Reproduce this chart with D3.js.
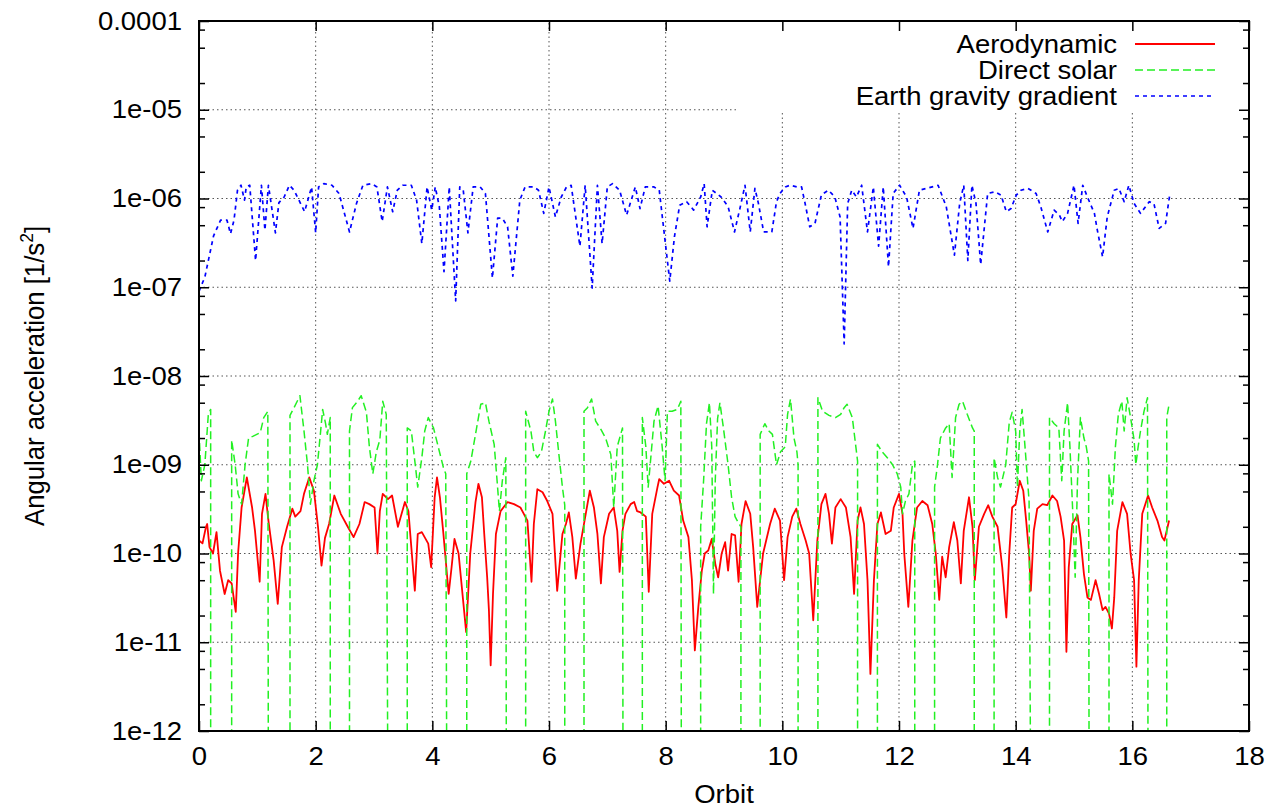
<html>
  <head>
    <style>
      body { margin: 0; background: #fff; }
      svg text { font-family: "Liberation Sans", Arial, sans-serif; fill: #000; }
    </style>
  </head>
  <body>
    <div id="chart"></div>
    <script src="https://d3js.org/d3.v7.min.js"></script>
    <script>
      // series names, in plotting order
      const seriesNames = ["Aerodynamic", "Direct solar", "Earth gravity gradient"];

      // axis ticks
      const xTicks = [0, 2, 4, 6, 8, 10, 12, 14, 16, 18];
      const yTicks = [1e-12, 1e-11, 1e-10, 1e-9, 1e-8, 1e-7, 1e-6, 1e-5, 1e-4];
      const yTickLabels = ["1e-12", "1e-11", "1e-10", "1e-09", "1e-08", "1e-07", "1e-06", "1e-05", "0.0001"];
      const yMinorMantissas = [2, 5, 8];

      // [orbit, angular acceleration 1/s^2]
      const aerodynamic = [
        [0.00,1.4e-10],[0.06,1.3e-10],[0.12,2.0e-10],[0.14,2.15e-10],[0.18,1.18e-10],[0.24,1.0e-10],[0.30,1.74e-10],
        [0.36,6.4e-11],[0.44,3.5e-11],[0.50,5.0e-11],[0.56,4.6e-11],[0.60,3.0e-11],[0.63,2.2e-11],[0.67,1.0e-10],
        [0.73,3.3e-10],[0.82,7.2e-10],[0.91,3.3e-10],[0.96,1.8e-10],[1.04,4.8e-11],[1.08,2.8e-10],[1.14,4.7e-10],
        [1.19,2.35e-10],[1.28,8.3e-11],[1.35,2.7e-11],[1.42,1.18e-10],[1.51,2.0e-10],[1.60,3.2e-10],[1.65,2.6e-10],
        [1.74,3.0e-10],[1.80,4.7e-10],[1.89,7.2e-10],[1.97,5.1e-10],[2.04,2.0e-10],[2.10,7.3e-11],[2.16,1.5e-10],
        [2.23,2.15e-10],[2.32,4.5e-10],[2.43,2.8e-10],[2.55,2.0e-10],[2.65,1.53e-10],[2.75,2.15e-10],[2.84,3.8e-10],
        [2.92,3.6e-10],[3.01,3.3e-10],[3.06,1.0e-10],[3.10,3.0e-10],[3.15,4.7e-10],[3.24,4.1e-10],[3.31,4.5e-10],
        [3.41,2.0e-10],[3.53,3.8e-10],[3.59,3.0e-10],[3.70,3.8e-11],[3.75,1.66e-10],[3.82,1.74e-10],[3.93,1.29e-10],
        [3.98,7.0e-11],[4.04,4.3e-10],[4.08,7.2e-10],[4.13,4.3e-10],[4.19,1.66e-10],[4.28,3.5e-11],[4.33,7.0e-11],
        [4.38,1.46e-10],[4.45,1.0e-10],[4.58,1.3e-11],[4.65,1.0e-10],[4.74,3.8e-10],[4.79,6.1e-10],[4.85,4.3e-10],
        [4.89,1.66e-10],[4.94,5.4e-11],[4.97,2.3e-11],[5.00,5.5e-12],[5.04,3.5e-11],[5.09,1.66e-10],[5.17,3.0e-10],
        [5.29,3.8e-10],[5.40,3.6e-10],[5.51,3.3e-10],[5.63,2.35e-10],[5.70,4.8e-11],[5.74,2.15e-10],[5.80,5.3e-10],
        [5.89,4.9e-10],[5.97,3.9e-10],[6.06,2.8e-10],[6.14,3.8e-11],[6.23,1.66e-10],[6.29,2.15e-10],[6.34,2.9e-10],
        [6.40,1.53e-10],[6.46,5.2e-11],[6.54,1.29e-10],[6.63,2.8e-10],[6.70,5.1e-10],[6.77,3.3e-10],[6.83,1.66e-10],
        [6.89,4.6e-11],[6.94,1.53e-10],[7.03,2.8e-10],[7.11,3.3e-10],[7.17,1.8e-10],[7.21,6.2e-11],[7.26,1.8e-10],
        [7.31,2.8e-10],[7.40,3.6e-10],[7.46,3.8e-10],[7.51,3.0e-10],[7.57,2.9e-10],[7.66,2.6e-10],[7.71,3.7e-11],
        [7.77,2.8e-10],[7.86,5.6e-10],[7.89,6.9e-10],[7.97,6.1e-10],[8.06,6.6e-10],[8.14,5.1e-10],[8.23,4.5e-10],
        [8.30,2.35e-10],[8.39,1.53e-10],[8.45,5.0e-11],[8.50,8.1e-12],[8.56,2.5e-11],[8.62,6.4e-11],[8.67,1.0e-10],
        [8.73,1.08e-10],[8.79,1.46e-10],[8.85,7.7e-11],[8.90,5.4e-11],[8.96,1.0e-10],[9.02,1.34e-10],[9.07,6.4e-11],
        [9.13,1.66e-10],[9.19,1.6e-10],[9.25,4.8e-11],[9.30,2.15e-10],[9.37,3.9e-10],[9.45,2.8e-10],[9.50,1.18e-10],
        [9.57,2.5e-11],[9.67,1.0e-10],[9.79,2.15e-10],[9.87,3.2e-10],[9.96,2.35e-10],[10.03,5.0e-11],[10.09,1.53e-10],
        [10.17,2.6e-10],[10.24,3.2e-10],[10.31,2.15e-10],[10.40,1.4e-10],[10.46,1.0e-10],[10.53,1.77e-11],[10.60,1.4e-10],
        [10.67,3.6e-10],[10.74,4.7e-10],[10.80,2.8e-10],[10.85,1.29e-10],[10.91,3.3e-10],[11.00,4.1e-10],[11.09,3.3e-10],
        [11.17,1.53e-10],[11.23,3.5e-11],[11.29,2.35e-10],[11.34,3.3e-10],[11.40,2.15e-10],[11.46,5.0e-11],[11.51,4.4e-12],
        [11.57,5.0e-11],[11.63,2.15e-10],[11.69,2.9e-10],[11.77,1.66e-10],[11.86,1.8e-10],[11.91,3.3e-10],[12.00,4.7e-10],
        [12.06,2.8e-10],[12.09,1.0e-10],[12.16,2.5e-11],[12.23,1.4e-10],[12.31,3.3e-10],[12.40,3.9e-10],[12.49,3.5e-10],
        [12.57,2.15e-10],[12.63,1.0e-10],[12.69,3.0e-11],[12.74,9.2e-11],[12.80,5.4e-11],[12.86,1.18e-10],[12.94,2.25e-10],
        [13.00,1.4e-10],[13.06,4.6e-11],[13.11,1.8e-10],[13.20,4.3e-10],[13.26,2.0e-10],[13.30,5.0e-11],[13.37,2.0e-10],
        [13.46,2.8e-10],[13.53,3.5e-10],[13.60,2.6e-10],[13.69,2.0e-10],[13.77,7.0e-11],[13.84,1.9e-11],[13.89,1.0e-10],
        [13.94,3.3e-10],[14.00,3.6e-10],[14.07,6.6e-10],[14.13,5.1e-10],[14.18,2.35e-10],[14.23,1.0e-10],[14.26,3.8e-11],
        [14.31,1.8e-10],[14.37,3.2e-10],[14.46,3.6e-10],[14.54,3.5e-10],[14.63,4.5e-10],[14.71,3.9e-10],[14.77,2.6e-10],
        [14.83,1.4e-10],[14.87,7.8e-12],[14.91,7.0e-11],[14.97,2.15e-10],[15.06,2.7e-10],[15.11,1.53e-10],[15.17,5.9e-11],
        [15.23,3.2e-11],[15.29,3.0e-11],[15.37,5.0e-11],[15.43,3.5e-11],[15.49,2.3e-11],[15.54,2.5e-11],[15.60,2.1e-11],
        [15.65,1.43e-11],[15.69,3.2e-11],[15.74,1.8e-10],[15.83,3.8e-10],[15.91,2.8e-10],[15.97,1.0e-10],[16.03,5.0e-11],
        [16.07,5.3e-12],[16.11,5.0e-11],[16.17,2.8e-10],[16.27,4.5e-10],[16.34,3.3e-10],[16.43,2.35e-10],[16.51,1.53e-10],
        [16.55,1.4e-10],[16.63,2.35e-10]
      ];

      // 0 = in eclipse, no solar torque
      const directSolar = [
        [0.00,2.4e-9],[0.04,6.6e-10],[0.10,1.0e-9],[0.16,3.7e-9],[0.20,4.2e-9],[0.20,0],[0.56,0],
        [0.56,1.9e-9],[0.62,1.0e-9],[0.67,4.7e-10],[0.73,3.6e-10],[0.79,1.0e-9],[0.85,2.0e-9],[0.93,2.1e-9],
        [1.05,2.3e-9],[1.11,3.4e-9],[1.18,4.0e-9],[1.19,0],[1.56,0],
        [1.56,3.6e-9],[1.63,4.4e-9],[1.73,6.0e-9],[1.80,2.4e-9],[1.86,1.0e-9],[1.91,3.6e-10],[1.97,6.6e-10],
        [2.03,1.0e-9],[2.08,2.2e-9],[2.12,4.2e-9],[2.17,2.9e-9],[2.20,2.2e-9],[2.25,3.4e-9],[2.25,0],[2.58,0],
        [2.58,2.4e-9],[2.63,4.4e-9],[2.72,5.2e-9],[2.78,6.0e-9],[2.87,3.9e-9],[2.92,1.6e-9],[2.98,7.9e-10],
        [3.04,1.4e-9],[3.10,1.9e-9],[3.15,5.2e-9],[3.21,3.7e-9],[3.24,0],[3.57,0],
        [3.57,2.6e-9],[3.64,2.4e-9],[3.70,1.1e-9],[3.75,5.6e-10],[3.82,1.2e-9],[3.87,2.4e-9],[3.93,3.4e-9],
        [4.02,2.6e-9],[4.10,1.6e-9],[4.19,9.3e-10],[4.23,7.9e-10],[4.25,0],[4.59,0],
        [4.59,7.9e-10],[4.66,1.1e-9],[4.74,2.2e-9],[4.83,4.8e-9],[4.91,5.0e-9],[4.97,3.1e-9],[5.06,1.7e-9],
        [5.11,6.6e-10],[5.15,3.0e-10],[5.20,6.6e-10],[5.26,1.2e-9],[5.27,0],[5.60,0],
        [5.60,4.0e-9],[5.69,2.4e-9],[5.74,1.4e-9],[5.80,1.2e-9],[5.87,1.4e-9],[5.94,2.4e-9],[6.00,4.0e-9],
        [6.06,5.5e-9],[6.11,3.1e-9],[6.17,1.3e-9],[6.23,5.6e-10],[6.27,3.5e-10],[6.27,0],[6.60,0],
        [6.60,4.0e-9],[6.66,4.4e-9],[6.73,5.5e-9],[6.80,3.1e-9],[6.89,2.5e-9],[6.97,2.0e-9],[7.06,1.3e-9],
        [7.11,3.3e-10],[7.17,1.6e-9],[7.26,2.6e-9],[7.27,0],[7.60,0],
        [7.60,3.4e-9],[7.66,1.6e-9],[7.70,5.6e-10],[7.74,1.1e-9],[7.80,3.1e-9],[7.87,4.6e-9],[7.94,1.6e-9],
        [7.99,6.6e-10],[8.03,4.0e-9],[8.11,4.0e-9],[8.20,4.2e-9],[8.26,5.2e-9],[8.27,0],[8.60,0],
        [8.60,2.0e-10],[8.65,6.6e-10],[8.70,2.9e-9],[8.75,5.0e-9],[8.79,1.6e-9],[8.82,3.5e-11],[8.85,6.6e-10],
        [8.89,3.3e-9],[8.93,5.0e-9],[8.99,2.6e-9],[9.07,1.0e-9],[9.13,4.3e-10],[9.19,2.6e-10],[9.25,2.2e-10],
        [9.29,2.0e-10],[9.29,0],[9.62,0],
        [9.62,2.2e-9],[9.70,2.9e-9],[9.77,2.4e-9],[9.83,2.2e-9],[9.90,1.0e-9],[9.97,1.4e-9],[10.05,1.6e-9],
        [10.09,3.7e-9],[10.14,5.5e-9],[10.20,2.0e-9],[10.25,1.4e-9],[10.27,1.0e-9],[10.27,0],[10.61,0],
        [10.61,5.7e-9],[10.69,4.0e-9],[10.80,3.6e-9],[10.91,3.4e-9],[11.00,3.7e-9],[11.06,4.4e-9],[11.11,4.8e-9],
        [11.20,3.4e-9],[11.26,1.6e-9],[11.29,1.1e-9],[11.29,0],[11.63,0],
        [11.63,1.7e-9],[11.71,1.4e-9],[11.80,1.2e-9],[11.89,1.0e-9],[11.97,7.9e-10],[12.03,5.6e-10],[12.06,2.8e-10],
        [12.11,3.9e-10],[12.17,4.7e-10],[12.23,1.0e-9],[12.27,1.1e-9],[12.27,0],[12.61,0],
        [12.61,5.6e-10],[12.66,1.0e-9],[12.71,2.0e-9],[12.80,2.6e-9],[12.86,2.9e-9],[12.91,7.2e-10],[12.97,3.4e-9],
        [13.03,4.8e-9],[13.09,5.2e-9],[13.17,3.7e-9],[13.26,2.6e-9],[13.29,2.4e-9],[13.29,0],[13.63,0],
        [13.63,1.2e-9],[13.69,7.2e-10],[13.74,5.6e-10],[13.83,1.0e-9],[13.89,3.0e-9],[13.94,3.9e-9],[14.00,2.4e-9],
        [14.03,5.6e-10],[14.07,2.4e-9],[14.11,4.2e-9],[14.16,1.6e-9],[14.20,7.2e-10],[14.23,3.9e-10],[14.26,0],[14.58,0],
        [14.58,3.4e-9],[14.66,2.9e-9],[14.74,2.6e-9],[14.79,6.6e-10],[14.83,2.4e-9],[14.89,5.0e-9],[14.93,1.6e-9],
        [14.98,2.8e-10],[15.02,5.4e-11],[15.06,6.6e-10],[15.11,3.4e-9],[15.17,2.0e-9],[15.21,1.6e-9],[15.25,1.1e-9],
        [15.26,0],[15.60,0],
        [15.60,7.9e-10],[15.66,3.6e-10],[15.71,1.6e-9],[15.76,3.7e-9],[15.82,5.2e-9],[15.86,2.4e-9],[15.91,5.7e-9],
        [15.97,3.4e-9],[16.03,1.9e-9],[16.06,1.0e-9],[16.10,1.6e-9],[16.14,2.4e-9],[16.20,4.0e-9],[16.26,5.7e-9],
        [16.27,0],[16.59,0],
        [16.59,3.4e-9],[16.63,4.8e-9]
      ];

      const gravityGradient = [
        [0.00,9.0e-8],[0.10,1.3e-7],[0.25,3.8e-7],[0.37,5.7e-7],[0.48,5.7e-7],[0.54,4.0e-7],[0.60,5.7e-7],
        [0.66,1.24e-6],[0.72,1.41e-6],[0.78,9.6e-7],[0.81,1.35e-6],[0.87,1.41e-6],[0.97,2.0e-7],[1.07,1.41e-6],
        [1.13,4.4e-7],[1.19,1.41e-6],[1.31,4.1e-7],[1.37,9.0e-7],[1.46,1.04e-6],[1.55,1.41e-6],[1.63,1.24e-6],
        [1.81,7.1e-7],[1.93,1.35e-6],[2.00,4.1e-7],[2.05,1.35e-6],[2.14,1.47e-6],[2.28,1.41e-6],[2.40,1.14e-6],
        [2.58,4.2e-7],[2.70,8.8e-7],[2.81,1.41e-6],[2.96,1.47e-6],[3.05,1.35e-6],[3.14,5.5e-7],[3.23,1.35e-6],
        [3.32,7.1e-7],[3.40,1.24e-6],[3.49,1.41e-6],[3.64,1.41e-6],[3.73,9.6e-7],[3.82,3.1e-7],[3.91,1.35e-6],
        [3.99,7.4e-7],[4.05,1.35e-6],[4.12,8.1e-7],[4.20,1.5e-7],[4.29,1.35e-6],[4.40,7.0e-8],[4.47,1.35e-6],
        [4.53,1.24e-6],[4.61,4.1e-7],[4.70,1.35e-6],[4.82,1.35e-6],[4.91,1.14e-6],[5.03,1.27e-7],[5.12,6.0e-7],
        [5.20,6.0e-7],[5.29,4.8e-7],[5.38,1.33e-7],[5.50,9.6e-7],[5.59,1.35e-6],[5.74,1.35e-6],[5.82,1.24e-6],
        [5.91,6.8e-7],[6.00,1.35e-6],[6.11,6.2e-7],[6.21,1.04e-6],[6.30,1.35e-6],[6.38,1.41e-6],[6.53,2.9e-7],
        [6.62,1.41e-6],[6.74,9.8e-8],[6.83,1.41e-6],[6.91,3.1e-7],[7.00,1.35e-6],[7.09,1.47e-6],[7.21,1.24e-6],
        [7.33,6.5e-7],[7.48,1.35e-6],[7.56,7.7e-7],[7.65,1.35e-6],[7.80,1.35e-6],[7.89,1.24e-6],[8.07,1.17e-7],
        [8.15,3.7e-7],[8.24,8.4e-7],[8.36,9.2e-7],[8.48,7.4e-7],[8.60,1.04e-6],[8.66,1.47e-6],[8.71,4.8e-7],
        [8.80,1.24e-6],[8.95,1.04e-6],[9.07,8.1e-7],[9.18,4.2e-7],[9.28,8.1e-7],[9.36,1.41e-6],[9.45,4.2e-7],
        [9.53,1.3e-6],[9.59,8.8e-7],[9.68,4.2e-7],[9.82,4.2e-7],[9.90,9.2e-7],[9.96,1.14e-6],[10.05,1.35e-6],
        [10.13,1.41e-6],[10.25,1.35e-6],[10.33,1.35e-6],[10.39,8.8e-7],[10.47,4.8e-7],[10.56,5.25e-7],[10.67,1.1e-6],
        [10.79,1.24e-6],[10.90,1.04e-6],[10.99,6.2e-7],[11.06,2.3e-8],[11.12,8.8e-7],[11.19,1.24e-6],[11.27,1.04e-6],
        [11.36,1.41e-6],[11.46,4.2e-7],[11.56,1.35e-6],[11.65,2.9e-7],[11.73,1.35e-6],[11.82,1.7e-7],[11.90,1.14e-6],
        [12.01,1.41e-6],[12.13,1.04e-6],[12.24,4.6e-7],[12.35,1.24e-6],[12.47,1.3e-6],[12.67,1.41e-6],[12.81,8.1e-7],
        [12.95,2.3e-7],[13.04,8.8e-7],[13.11,1.41e-6],[13.18,2.0e-7],[13.25,1.41e-6],[13.32,8.8e-7],[13.40,1.8e-7],
        [13.52,1.14e-6],[13.64,1.19e-6],[13.75,1.09e-6],[13.84,7.1e-7],[13.92,7.7e-7],[14.01,1.09e-6],[14.09,1.24e-6],
        [14.21,1.3e-6],[14.35,1.14e-6],[14.43,8.1e-7],[14.55,4.2e-7],[14.66,7.4e-7],[14.75,6.5e-7],[14.80,5.5e-7],
        [14.89,6.8e-7],[15.00,1.41e-6],[15.07,5.25e-7],[15.15,1.41e-6],[15.23,1.04e-6],[15.35,6.8e-7],[15.40,4.4e-7],
        [15.49,2.2e-7],[15.57,6.2e-7],[15.69,1.24e-6],[15.77,1.3e-6],[15.86,9.2e-7],[15.94,1.41e-6],[16.03,8.8e-7],
        [16.14,6.8e-7],[16.29,9.2e-7],[16.37,8.8e-7],[16.46,4.6e-7],[16.57,5.25e-7],[16.64,1.09e-6]
      ];

      const width = 1272;
      const height = 808;
      const margin = {top: 21, right: 23, bottom: 77, left: 199};
      const stretch = "scale(1.1,1)";

      const x = d3.scaleLinear().domain([0, 18]).range([margin.left, width - margin.right]);
      const y = d3.scaleLog().domain([1e-12, 1e-4]).range([height - margin.bottom, margin.top]);

      const yMinor = [];
      yTicks.slice(0, -1).forEach(t => yMinorMantissas.forEach(m => yMinor.push(t * m)));

      const svg = d3.select("#chart")
        .append("svg")
        .attr("width", width)
        .attr("height", height);

      // grid
      const grid = svg.append("g")
        .attr("stroke", "#555")
        .attr("stroke-width", 1)
        .attr("stroke-dasharray", "1.5,3");
      grid.selectAll(".gx")
        .data(xTicks.slice(1, -1))
        .enter().append("line")
        .attr("x1", d => x(d)).attr("x2", d => x(d))
        .attr("y1", y.range()[0]).attr("y2", y.range()[1]);
      grid.selectAll(".gy")
        .data(yTicks.slice(1, -1))
        .enter().append("line")
        .attr("x1", x.range()[0]).attr("x2", x.range()[1])
        .attr("y1", d => y(d)).attr("y2", d => y(d));

      // key area hides the grid behind it
      svg.append("rect")
        .attr("x", 737).attr("y", margin.top + 1)
        .attr("width", x.range()[1] - 738).attr("height", 89)
        .attr("fill", "#fff");

      svg.append("clipPath").attr("id", "plot")
        .append("rect")
        .attr("x", x.range()[0]).attr("y", y.range()[1])
        .attr("width", x.range()[1] - x.range()[0])
        .attr("height", y.range()[0] - y.range()[1]);

      const floor = y.domain()[0] / 10;
      const line = d3.line()
        .x(d => x(d[0]))
        .y(d => y(d[1] > 0 ? d[1] : floor));

      const styles = [
        {color: "#ff0000", width: 1.8, dash: null},
        {color: "#22f022", width: 1.5, dash: "8,4"},
        {color: "#0000ff", width: 1.7, dash: "4,4"}
      ];
      const series = [aerodynamic, directSolar, gravityGradient];

      svg.append("g").attr("clip-path", "url(#plot)")
        .selectAll("path")
        .data(series)
        .enter().append("path")
        .attr("fill", "none")
        .attr("stroke", (d, i) => styles[i].color)
        .attr("stroke-width", (d, i) => styles[i].width)
        .attr("stroke-dasharray", (d, i) => styles[i].dash)
        .attr("stroke-linejoin", "round")
        .attr("d", line);

      // axes (ticks point inwards)
      function styleAxis(g) {
        g.select(".domain").remove();
        g.selectAll(".tick line").attr("stroke", "#000").attr("stroke-width", 1.5);
        g.selectAll(".tick text").attr("font-size", 25).attr("fill", "#000")
          .attr("font-family", "Liberation Sans, Arial, sans-serif")
          .attr("transform", stretch);
      }
      const x0 = x.range()[0], x1 = x.range()[1], y0 = y.range()[0], y1 = y.range()[1];

      svg.append("g").attr("transform", `translate(0,${y0})`)
        .call(d3.axisBottom(x).tickValues(xTicks).tickFormat(d => d)
          .tickSizeInner(-10).tickSizeOuter(0).tickPadding(16))
        .call(styleAxis);
      svg.append("g").attr("transform", `translate(0,${y1})`)
        .call(d3.axisTop(x).tickValues(xTicks).tickFormat("")
          .tickSizeInner(-10).tickSizeOuter(0))
        .call(styleAxis);
      svg.append("g").attr("transform", `translate(${x0},0)`)
        .call(d3.axisLeft(y).tickValues(yTicks).tickFormat((d, i) => yTickLabels[i])
          .tickSizeInner(-10).tickSizeOuter(0).tickPadding(15.5))
        .call(styleAxis);
      svg.append("g").attr("transform", `translate(${x0},0)`)
        .call(d3.axisLeft(y).tickValues(yMinor).tickFormat("")
          .tickSizeInner(-6).tickSizeOuter(0))
        .call(styleAxis);
      svg.append("g").attr("transform", `translate(${x1},0)`)
        .call(d3.axisRight(y).tickValues(yTicks).tickFormat("")
          .tickSizeInner(-10).tickSizeOuter(0))
        .call(styleAxis);
      svg.append("g").attr("transform", `translate(${x1},0)`)
        .call(d3.axisRight(y).tickValues(yMinor).tickFormat("")
          .tickSizeInner(-6).tickSizeOuter(0))
        .call(styleAxis);

      svg.append("rect")
        .attr("x", x0).attr("y", y1)
        .attr("width", x1 - x0).attr("height", y0 - y1)
        .attr("fill", "none").attr("stroke", "#000").attr("stroke-width", 2);

      // axis titles
      svg.append("text")
        .attr("transform", `translate(${(x0 + x1) / 2},803) ${stretch}`)
        .attr("text-anchor", "middle")
        .attr("font-size", 25)
        .text("Orbit");

      const ylab = svg.append("text")
        .attr("transform", `translate(44,${(y0 + y1) / 2}) rotate(-90) scale(1.03,1.12)`)
        .attr("text-anchor", "middle")
        .attr("font-size", 25);
      ylab.append("tspan").text("Angular acceleration [1/s");
      ylab.append("tspan").attr("font-size", 17).attr("dy", -10).text("2");
      ylab.append("tspan").attr("dy", 10).text("]");

      // key
      const key = svg.append("g");
      seriesNames.forEach((name, i) => {
        const ky = 44 + i * 26;
        key.append("text")
          .attr("transform", `translate(1117,${ky}) ${stretch}`)
          .attr("text-anchor", "end")
          .attr("dy", "0.35em")
          .attr("font-size", 25)
          .text(name);
        key.append("line")
          .attr("x1", 1135).attr("x2", 1215)
          .attr("y1", ky).attr("y2", ky)
          .attr("stroke", styles[i].color)
          .attr("stroke-width", styles[i].width)
          .attr("stroke-dasharray", styles[i].dash);
      });
    </script>
  </body>
</html>
